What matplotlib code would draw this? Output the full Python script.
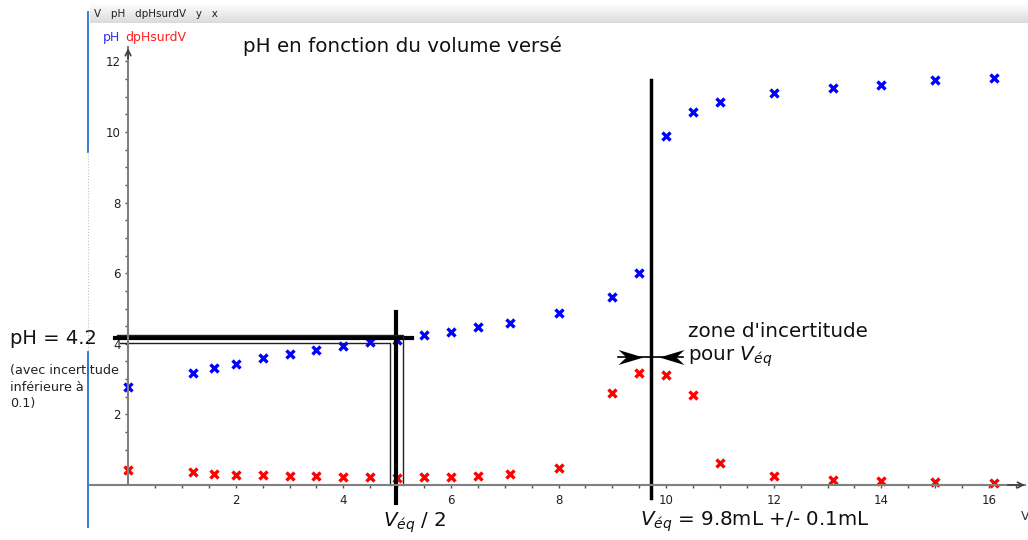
import numpy as np
import matplotlib
matplotlib.use('Agg')
import matplotlib.pyplot as plt
from matplotlib.path import Path
from matplotlib.ticker import FixedLocator
from matplotlib.lines import Line2D

# titration data
volume = [0, 1.2, 1.6, 2.0, 2.5, 3.0, 3.5, 4.0, 4.5, 5.0, 5.5, 6.0, 6.5, 7.1, 8.0,
          9.0, 9.5, 10.0, 10.5, 11.0, 12.0, 13.1, 14.0, 15.0, 16.1]
ph = [2.78, 3.17, 3.31, 3.43, 3.6, 3.71, 3.82, 3.94, 4.05, 4.1, 4.25, 4.33, 4.48, 4.59, 4.87,
      5.33, 6.0, 9.9, 10.57, 10.85, 11.1, 11.25, 11.33, 11.47, 11.53]
dph_dv = [0.42, 0.37, 0.31, 0.28, 0.28, 0.25, 0.25, 0.23, 0.23, 0.2, 0.23, 0.23, 0.25, 0.31, 0.48,
          2.6, 3.17, 3.12, 2.55, 0.62, 0.25, 0.14, 0.11, 0.08, 0.06]
x_ticks = [2, 4, 6, 8, 10, 12, 14, 16]
y_ticks = [2, 4, 6, 8, 10, 12]

v_eq = 9.72
v_half = 4.98
ph_half = 4.16

# pixel layout of the original (axes origin and scale)
W, H = 1028, 540
X0, SX = 128.1, 53.8
Y0, SY = 485.0, 35.3

fig = plt.figure(figsize=(W / 100, H / 100), dpi=100)
ax = fig.add_axes([0, 0, 1, 1])
ax.set_xlim(-X0 / SX, (W - X0) / SX)
ax.set_ylim((Y0 - H) / SY, Y0 / SY)

axis_col = '#808080'
for s in ['top', 'right']:
    ax.spines[s].set_visible(False)
ax.spines['left'].set_position(('data', 0))
ax.spines['bottom'].set_position(('data', 0))
ax.spines['left'].set_bounds(0, 12.4)
ax.spines['bottom'].set_bounds(-0.7, 16.68)
for s in ['left', 'bottom']:
    ax.spines[s].set_color(axis_col)
    ax.spines[s].set_linewidth(1.5)
ax.xaxis.set_major_locator(FixedLocator(x_ticks))
ax.yaxis.set_major_locator(FixedLocator(y_ticks))
ax.xaxis.set_minor_locator(FixedLocator(np.arange(0.5, 16.6, 0.5)))
ax.yaxis.set_minor_locator(FixedLocator(np.arange(0.5, 12.1, 0.5)))
ax.tick_params(which='both', direction='out', length=2.5, width=1, color='#505050',
               labelsize=8.5, labelcolor='#202020', pad=3)
ax.tick_params(axis='x', pad=4)
ax.set_xticklabels([str(t) for t in x_ticks])
ax.set_yticklabels([str(t) for t in y_ticks])
ax.patch.set_visible(False)

# axis arrow heads
ax.annotate('', xy=(0, 12.45), xytext=(0, 12.0),
            arrowprops=dict(arrowstyle='->', color='#404040', lw=1.2))
ax.annotate('', xy=(16.72, 0), xytext=(16.3, 0),
            arrowprops=dict(arrowstyle='->', color='#404040', lw=1.2))

# data points
ax.plot(volume, ph, 'x', color='#0000ff', ms=5.5, mew=2.4, clip_on=False)
ax.plot(volume, dph_dv, 'x', color='#ff0000', ms=5.5, mew=2.4, clip_on=False)

# half-equivalence construction
ax.plot([-0.25, 5.27], [ph_half, ph_half], color='black', lw=3)
ax.plot([v_half, v_half], [4.9, -0.51], color='black', lw=3)
ax.plot([-0.2, 5.11, 5.11], [4.24, 4.24, 0], color='#202020', lw=1)
ax.plot([-0.15, 4.87, 4.87], [4.03, 4.03, 0], color='#202020', lw=1)

# equivalence line
ax.plot([v_eq, v_eq], [11.47, -0.37], color='black', lw=2.5)

# uncertainty arrows (stealth heads pointing inward)
stealth = Path([(0, 0), (-1.0, 0.3), (-0.68, 0), (-1.0, -0.3), (0, 0)],
               [Path.MOVETO, Path.LINETO, Path.LINETO, Path.LINETO, Path.CLOSEPOLY])
left_head = Path(stealth.vertices * [-1, 1], stealth.codes)
y_arr = 3.62
ax.plot([9.1, 10.32], [y_arr, y_arr], color='black', lw=1.2)
ax.plot([9.57], [y_arr], marker=stealth, ms=36, color='black', mew=0)
ax.plot([9.87], [y_arr], marker=left_head, ms=36, color='black', mew=0)

# texts
ax.text(2.14, 12.45, 'pH en fonction du volume versé', fontsize=14.3, va='center', color='#111111')
ax.text(10.4, 4.34, "zone d'incertitude", fontsize=14.3, va='center', color='#111111')
ax.text(10.4, 3.62, r"pour $V_{éq}$", fontsize=14.3, va='center', color='#111111')
ax.text(-2.2, 4.16, 'pH = 4.2', fontsize=14, va='center', color='#111111')
ax.text(-2.2, 3.42, '(avec incertitude\ninférieure à\n0.1)', fontsize=9.2, va='top',
        linespacing=1.35, color='#222222')
ax.text(5.33, -1.08, r'$V_{éq}$ / 2', fontsize=14.3, ha='center', va='center', color='#111111')
ax.text(9.51, -1.05, r'$V_{éq}$ = 9.8mL +/- 0.1mL', fontsize=14.3, va='center', color='#111111')
ax.text(16.6, -0.9, 'V', fontsize=9, va='center', color='#333333', clip_on=False)

# window decorations of the original screenshot
px = 1.0 / W
py = 1.0 / H
bar = np.linspace(1.0, 0.86, 32).reshape(-1, 1)
ax_bar = fig.add_axes([90 * px, 1 - 23 * py, 1 - 90 * px, 20 * py])
ax_bar.imshow(np.dstack([bar, bar, bar]), aspect='auto', extent=[0, 1, 0, 1])
ax_bar.set_axis_off()
ax_bar.text(0.004, 0.45, 'V   pH   dpHsurdV   y   x', fontsize=7.5, va='center',
            color='#222222', transform=ax_bar.transAxes)
fig.text(103 * px, 1 - 38 * py, 'pH', fontsize=9, color='#3030ff', va='center')
fig.text(125 * px, 1 - 38 * py, 'dpHsurdV', fontsize=9, color='#ff2020', va='center')
fig.add_artist(Line2D([88 * px, 88 * px], [1 - 12 * py, 1 - 152 * py],
                      transform=fig.transFigure, color='#2a72d4', lw=1.3))
fig.add_artist(Line2D([88 * px, 88 * px], [1 - 152 * py, 1 - 352 * py],
                      transform=fig.transFigure, color='#c0c0c0', lw=0.8, ls=':'))
fig.add_artist(Line2D([88 * px, 88 * px], [1 - 352 * py, 1 - 527 * py],
                      transform=fig.transFigure, color='#2a72d4', lw=1.3))

fig.savefig('out.png', dpi=100)
